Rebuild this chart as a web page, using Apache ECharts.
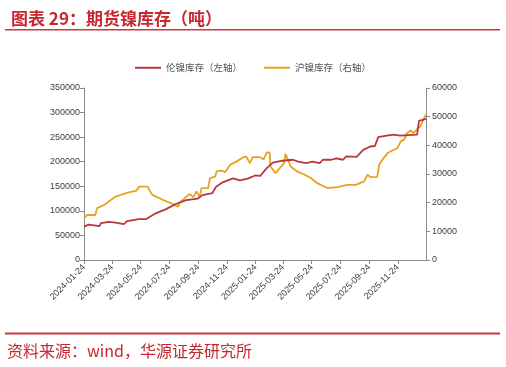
<!DOCTYPE html>
<html><head><meta charset="utf-8">
<script src="https://cdn.jsdelivr.net/npm/echarts@6/dist/echarts.min.js"></script>
<style>html,body{margin:0;padding:0;background:#fff}#c{width:506px;height:367px}</style>
</head><body><div id="c"></div>
<script>
var titleText = '图表 29：期货镍库存（吨）';
var sourceText = '资料来源：wind，华源证券研究所';
var seriesNames = ['伦镍库存（左轴）', '沪镍库存（右轴）'];
var startDate = '2024-01-24';
var endDate = '2026-01-23';
var tickLabels = ['2024-01-24','2024-03-24','2024-05-24','2024-07-24','2024-09-24','2024-11-24','2025-01-24','2025-03-24','2025-05-24','2025-07-24','2025-09-24','2025-11-24'];

var lmeDates = ['2024-01-24','2024-02-03','2024-02-26','2024-02-29','2024-03-17','2024-03-31','2024-04-18','2024-04-25','2024-05-20','2024-06-04','2024-06-25','2024-07-16','2024-08-07','2024-08-29','2024-09-23','2024-10-03','2024-10-24','2024-11-01','2024-11-15','2024-12-07','2024-12-22','2025-01-09','2025-01-23','2025-02-03','2025-02-17','2025-03-02','2025-03-23','2025-04-14','2025-04-25','2025-05-12','2025-05-26','2025-06-10','2025-06-17','2025-07-05','2025-07-16','2025-07-30','2025-08-06','2025-08-28','2025-09-11','2025-09-26','2025-10-06','2025-10-13','2025-10-31','2025-11-15','2025-11-29','2026-01-04','2026-01-08','2026-01-23'];
var lmeValues = [68000,72000,69000,75000,77500,76000,73000,79000,83000,83000,95000,103000,114000,122000,125000,132000,136000,149000,158000,166000,162000,166000,172000,171000,187000,198000,202000,204000,200000,197000,200000,197000,204000,204000,207000,204000,211000,210000,224000,231000,232000,250000,253000,255000,253000,255000,283000,287000];

var shfeDates = ['2024-01-24','2024-01-31','2024-02-17','2024-02-21','2024-03-07','2024-03-17','2024-03-31','2024-04-12','2024-04-26','2024-05-14','2024-05-21','2024-06-08','2024-06-11','2024-06-18','2024-07-10','2024-07-28','2024-08-12','2024-08-15','2024-08-26','2024-09-06','2024-09-13','2024-09-20','2024-09-27','2024-10-01','2024-10-15','2024-10-19','2024-10-30','2024-11-02','2024-11-13','2024-11-20','2024-12-01','2024-12-15','2024-12-30','2025-01-04','2025-01-08','2025-01-12','2025-01-18','2025-02-03','2025-02-10','2025-02-17','2025-02-23','2025-02-25','2025-03-08','2025-03-15','2025-03-26','2025-03-29','2025-04-05','2025-04-09','2025-04-23','2025-05-07','2025-05-22','2025-06-05','2025-06-26','2025-07-18','2025-08-08','2025-08-26','2025-09-13','2025-09-20','2025-09-27','2025-10-11','2025-10-15','2025-10-22','2025-11-02','2025-11-12','2025-11-23','2025-11-30','2025-12-07','2025-12-14','2025-12-21','2025-12-28','2026-01-04','2026-01-11','2026-01-17','2026-01-23'];
var shfeValues = [14600,15700,15700,18100,19200,20400,22100,22700,23500,24100,25600,25600,24500,22700,21000,19800,18600,20000,21600,23000,21900,23900,22100,25100,25100,28600,29100,30900,31200,30600,33200,34400,35900,36100,35000,33800,35900,35900,35000,37500,37500,32600,30300,31700,33800,37000,34400,32600,30900,29900,28600,26800,25100,25400,26200,26200,27400,29700,28900,29000,33200,35000,37300,38200,39000,41400,41900,44300,45200,44300,45700,46600,48900,50700];

function pad(n){return n<10?'0'+n:''+n;}
function buildCategories(s, e){
  var out = [];
  var d = new Date(s + 'T00:00:00Z');
  var end = new Date(e + 'T00:00:00Z');
  while (d <= end) {
    out.push(d.getUTCFullYear() + '-' + pad(d.getUTCMonth()+1) + '-' + pad(d.getUTCDate()));
    d.setUTCDate(d.getUTCDate() + 1);
  }
  return out;
}
var categories = buildCategories(startDate, endDate);
function zip(a, b){ return a.map(function(v, i){ return [v, b[i]]; }); }
var tickSet = {};
tickLabels.forEach(function(t){ tickSet[t] = true; });
function showTick(idx, val){ return !!tickSet[val]; }
function plain(v){ return String(v); }

var chart = echarts.init(document.getElementById('c'), null, {renderer: 'canvas'});
var axisGray = '#8c8c8c';
var labelColor = '#404040';
chart.setOption({
  animation: false,
  backgroundColor: '#fff',
  title: {
    text: titleText, left: 6, top: 5,
    textStyle: {color: '#c5282f', fontSize: 17, fontWeight: 'bold', fontFamily: 'Noto Sans CJK SC'}
  },
  graphic: [
    {type: 'rect', shape: {x: 5, y: 29, width: 495, height: 1.6}, style: {fill: '#c93a3e'}},
    {type: 'rect', shape: {x: 5, y: 332.5, width: 495, height: 2}, style: {fill: '#c93a3e'}},
    {type: 'text', left: 7, top: 343, style: {text: sourceText, fill: '#c5282f', fontSize: 16, fontFamily: 'Noto Sans CJK SC'}}
  ],
  legend: {
    top: 58, left: 'center', itemWidth: 26, itemHeight: 2, itemGap: 22, icon: 'rect',
    textStyle: {color: '#555', fontSize: 9.5, fontFamily: 'Noto Sans CJK SC'},
    data: seriesNames
  },
  grid: {left: 84, right: 80, top: 88, bottom: 107},
  xAxis: {
    type: 'category', data: categories, boundaryGap: false,
    axisLine: {lineStyle: {color: axisGray, width: 1}},
    axisTick: {interval: showTick, length: 4, lineStyle: {color: axisGray}},
    axisLabel: {interval: showTick, rotate: 45, fontSize: 9, color: labelColor, fontFamily: 'Liberation Sans', margin: 6, hideOverlap: false},
    splitLine: {show: false}
  },
  yAxis: [
    {
      type: 'value', min: 0, max: 350000, interval: 50000, position: 'left',
      axisLine: {show: true, lineStyle: {color: axisGray}},
      axisTick: {show: true, length: 4, lineStyle: {color: axisGray}},
      axisLabel: {fontSize: 9, color: labelColor, fontFamily: 'Liberation Sans', margin: 4, formatter: plain},
      splitLine: {show: false}
    },
    {
      type: 'value', min: 0, max: 60000, interval: 10000, position: 'right',
      axisLine: {show: true, lineStyle: {color: axisGray}},
      axisTick: {show: true, length: 4, lineStyle: {color: axisGray}},
      axisLabel: {fontSize: 9, color: labelColor, fontFamily: 'Liberation Sans', margin: 6, formatter: plain},
      splitLine: {show: false}
    }
  ],
  series: [
    {
      name: seriesNames[0], type: 'line', yAxisIndex: 0, showSymbol: false, symbol: 'none',
      data: zip(lmeDates, lmeValues),
      lineStyle: {color: '#b8373d', width: 1.8}, itemStyle: {color: '#b8373d'}, z: 3
    },
    {
      name: seriesNames[1], type: 'line', yAxisIndex: 1, showSymbol: false, symbol: 'none',
      data: zip(shfeDates, shfeValues),
      lineStyle: {color: '#e6a320', width: 1.8}, itemStyle: {color: '#e6a320'}, z: 2
    }
  ]
});
</script></body></html>
